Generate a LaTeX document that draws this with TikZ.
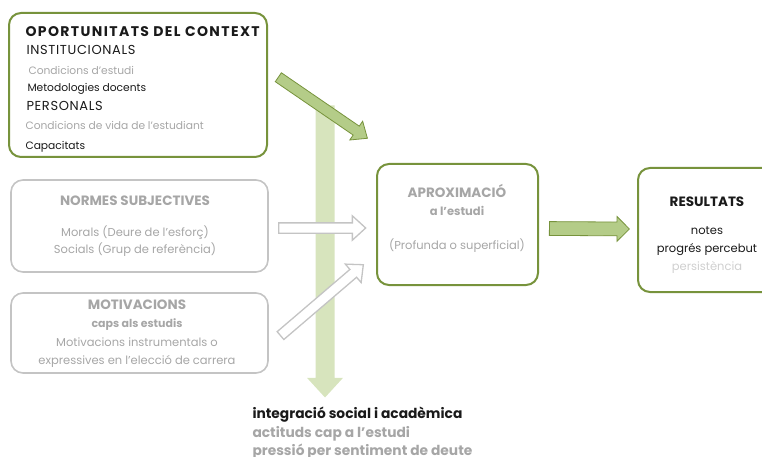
\documentclass[tikz,border=0pt]{standalone}
\usepackage{fontspec}
\setmainfont{Poppins}
\newfontfamily\widefont[LetterSpace=10]{Poppins}
\newfontfamily\spacedfont[LetterSpace=5]{Poppins}
\usetikzlibrary{shapes.arrows}
\definecolor{boxgreen}{HTML}{77933C}
\definecolor{boxgray}{HTML}{C4C4C4}
\definecolor{arrowgreen}{HTML}{B4CC88}
\definecolor{bargreen}{HTML}{D7E4BD}
\definecolor{textgray}{HTML}{A6A6A6}
\definecolor{textpale}{HTML}{CFCFCF}
\definecolor{textdark}{HTML}{1A1A1A}

\begin{document}
\begin{tikzpicture}[x=1pt, y=-1pt,
                    line width=1pt,
                    text=textdark]
    \tikzstyle{greenbox}=[draw=boxgreen, line width=2pt, rounded corners=12pt, inner sep=0pt]
    \tikzstyle{graybox}=[greenbox, draw=boxgray, line width=1.6pt]
    \tikzstyle{maintitle}=[inner sep=0pt, font=\widefont\fontsize{14}{16}\selectfont\bfseries]
    \tikzstyle{heading}=[inner sep=0pt, font=\fontsize{13.5}{15}\selectfont\bfseries]
    \tikzstyle{grayheading}=[heading, text=textgray]
    \tikzstyle{subheading}=[inner sep=0pt, font=\spacedfont\fontsize{13}{15}\selectfont]
    \tikzstyle{smallbold}=[inner sep=0pt, font=\fontsize{11}{12}\selectfont\bfseries, text=textgray]
    \tikzstyle{ctxitem}=[inner sep=0pt, font=\fontsize{10.7}{12}\selectfont]
    \tikzstyle{grayctxitem}=[ctxitem, text=textgray]
    \tikzstyle{item}=[inner sep=0pt, font=\fontsize{11.5}{13}\selectfont]
    \tikzstyle{grayitem}=[item, text=textgray]
    \tikzstyle{paleitem}=[item, text=textpale]
    \tikzstyle{bolditem}=[inner sep=0pt, font=\fontsize{13.8}{15}\selectfont\bfseries]
    \tikzstyle{blockarrow}=[single arrow, inner sep=0pt, pos=0, anchor=tail, sloped, allow upside down]
    \tikzstyle{bararrow}=[blockarrow, fill=bargreen, inner ysep=9pt, single arrow head extend=8.5pt, single arrow tip angle=85]
    \tikzstyle{greenarrow}=[blockarrow, fill=arrowgreen, draw=boxgreen, line width=0.8pt, inner ysep=5pt, single arrow head extend=6pt, single arrow tip angle=80]
    \tikzstyle{hollowarrow}=[blockarrow, fill=white, draw=boxgray, line width=1.3pt, inner ysep=4.5pt, single arrow head extend=7pt, single arrow tip angle=85]

    \useasboundingbox (0,0) rectangle (762,457);

    % boxes
    \node[greenbox, minimum width=258pt, minimum height=144pt] (context) at (138,85) {};
    \node[graybox, minimum width=257pt, minimum height=92pt] (normes) at (139.5,226) {};
    \node[graybox, minimum width=257pt, minimum height=80pt] (motiv) at (139.5,333) {};
    \node[greenbox, minimum width=161pt, minimum height=121pt] (aprox) at (457.5,224.5) {};
    \node[greenbox, minimum width=138pt, minimum height=124pt] (result) at (707,230) {};

    % arrows
    \coordinate (barTail) at (325,105);
    \coordinate (barTip) at (325,397);
    \coordinate (ctxTail) at (278,77);
    \coordinate (ctxTip) at (367,138);
    \coordinate (normTail) at (278,228);
    \coordinate (normTip) at (365,228);
    \coordinate (motTail) at (280,336);
    \coordinate (motTip) at (363,265);

    \path (barTail) -- (barTip) node[bararrow, minimum height=292pt] (bar) {};
    \path (ctxTail) -- (ctxTip) node[greenarrow, minimum height=108pt] (ctxarrow) {};
    \path (normTail) -- (normTip) node[hollowarrow, minimum height=87pt] (normarrow) {};
    \path (motTail) -- (motTip) node[hollowarrow, minimum height=109pt] (motarrow) {};
    \path (aprox.east) ++(10,4) coordinate (aproxOut) -- (result.west) ++(-10,-1) coordinate (resultIn);
    \path (aproxOut) -- (resultIn) node[greenarrow, inner ysep=6.5pt, single arrow head extend=5.5pt, single arrow tip angle=90, minimum height=80pt] (resarrow) {};

    % oportunitats del context
    \node[maintitle, anchor=base west] (ctxTitle) at (25,37) {OPORTUNITATS DEL CONTEXT};
    \node[subheading, anchor=base west] (inst) at (26,55) {INSTITUCIONALS};
    \node[grayctxitem, anchor=base west] (cond) at (28,74.5) {Condicions d'estudi};
    \node[ctxitem, anchor=base west] (metod) at (27,91.5) {Metodologies docents};
    \node[subheading, anchor=base west] (pers) at (26,111) {PERSONALS};
    \node[grayctxitem, anchor=base west] (vida) at (25,129.5) {Condicions de vida de l'estudiant};
    \node[ctxitem, anchor=base west] (capac) at (25,149.5) {Capacitats};

    % normes subjectives
    \node[grayheading, anchor=base] (normTitle) at (135,205.5) {NORMES SUBJECTIVES};
    \node[grayitem, anchor=base] (morals) at (135,236) {Morals (Deure de l’esforç)};
    \node[grayitem, anchor=base] (socials) at (135,253) {Socials (Grup de referència)};

    % motivacions
    \node[grayheading, anchor=base] (motTitle) at (137,309.5) {MOTIVACIONS};
    \node[smallbold, anchor=base] (caps) at (137,327) {caps als estudis};
    \node[grayitem, anchor=base] (instr) at (137,346) {Motivacions instrumentals o};
    \node[grayitem, anchor=base] (expr) at (137,364.5) {expressives en l’elecció de carrera};

    % aproximacio
    \node[grayheading, anchor=base] (aproxTitle) at (457,197) {APROXIMACIÓ};
    \node[smallbold, font=\fontsize{11.5}{13}\selectfont\bfseries, anchor=base] (estudi) at (457,215) {a l'estudi};
    \node[grayitem, anchor=base] (prof) at (457,249.5) {(Profunda o superficial)};

    % resultats
    \node[heading, anchor=base] (resTitle) at (707,206) {RESULTATS};
    \node[item, anchor=base] (notes) at (707,234) {notes};
    \node[item, anchor=base] (progres) at (707,252) {progrés percebut};
    \node[paleitem, anchor=base] (persist) at (707,270.5) {persistència};

    % integracio
    \node[bolditem, anchor=base west] (integr) at (252,418.5) {integració social i acadèmica};
    \node[bolditem, anchor=base west, text=textgray] (actit) at (252,437) {actituds cap a l'estudi};
    \node[bolditem, anchor=base west, text=textgray] (pressio) at (252,455.5) {pressió per sentiment de deute};
\end{tikzpicture}
\end{document}
